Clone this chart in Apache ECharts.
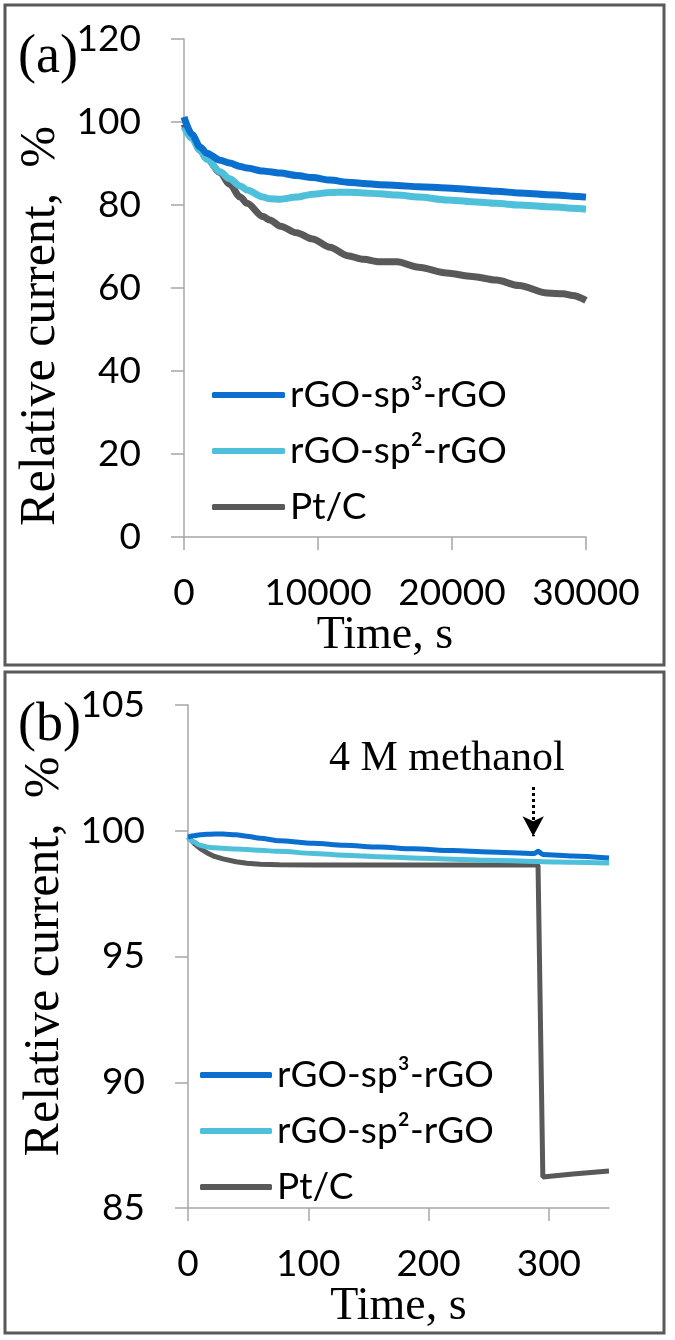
<!DOCTYPE html>
<html>
<head>
<meta charset="utf-8">
<script src="https://cdn.jsdelivr.net/npm/echarts@6/dist/echarts.min.js"></script>
<style>html,body{margin:0;padding:0;background:#fff;}#c{width:675px;height:1340px;}</style>
</head>
<body>
<div id="c"></div>
<script>
// ---- Panel (a) data ----
const timeA = [0, 600, 1200, 1700, 2700, 3400, 4200, 4700, 5900, 6400, 7200, 8400, 9600, 10900, 12200, 13400, 14600, 15900, 17500, 19600, 21500, 23300, 25000, 27100, 28300, 29000, 30000];
const sp3A  = [101.2, 97.0, 94.0, 92.5, 90.8, 90.1, 89.3, 88.9, 88.2, 88.0, 87.7, 87.1, 86.6, 86.0, 85.5, 85.2, 84.9, 84.7, 84.4, 84.1, 83.7, 83.3, 82.9, 82.5, 82.3, 82.1, 81.9];
const sp2A  = [98.8, 96.0, 93.2, 91.0, 88.0, 86.3, 84.6, 83.6, 81.9, 81.5, 81.4, 81.9, 82.6, 83.0, 83.1, 82.9, 82.7, 82.4, 81.9, 81.2, 80.8, 80.4, 80.0, 79.6, 79.4, 79.2, 79.0];
const ptcA  = [99.5, 96.5, 93.2, 91.2, 87.8, 85.0, 81.9, 80.4, 77.2, 76.4, 74.9, 73.3, 71.8, 69.8, 67.8, 66.9, 66.3, 66.3, 65.0, 63.6, 62.8, 61.9, 60.6, 58.8, 58.6, 58.2, 57.0];
const xTicksA = [0, 10000, 20000, 30000];
const yTicksA = [0, 20, 40, 60, 80, 100, 120];

// ---- Panel (b) data ----
const timeB = [0, 5, 10, 16, 22, 29, 40, 49, 60, 76, 104, 130, 159, 187, 220, 250, 288, 291, 295, 320, 350];
const sp3B  = [99.75, 99.8, 99.84, 99.86, 99.87, 99.87, 99.84, 99.78, 99.7, 99.6, 99.5, 99.42, 99.35, 99.28, 99.21, 99.16, 99.1, 99.18, 99.06, 99.0, 98.92];
const sp2B  = [99.75, 99.55, 99.42, 99.35, 99.32, 99.3, 99.27, 99.25, 99.22, 99.18, 99.1, 99.03, 98.97, 98.92, 98.87, 98.83, 98.78, 98.78, 98.77, 98.75, 98.72];
const ptcB  = [99.75, 99.5, 99.3, 99.12, 98.98, 98.88, 98.77, 98.71, 98.67, 98.65, 98.64, 98.64, 98.64, 98.64, 98.64, 98.64, 98.64, 98.64, 86.23, 86.35, 86.47];
const xTicksB = [0, 100, 200, 300];
const yTicksB = [85, 90, 95, 100, 105];
const arrowB = { time: 287, from: 101.74, to: 99.78 };

const names = ['rGO-sp³-rGO', 'rGO-sp²-rGO', 'Pt/C'];
const colors = ['#0a6fce', '#4fc0da', '#595959'];

const zip = (t, v) => t.map((x, i) => [x, v[i]]);

const SANS = 'Lato';
const SERIF = 'Liberation Serif';
const axisGray = '#a6a6a6';

function xAxisCfg(idx, min, max, interval, ticks, gap) {
  return {
    type: 'value', gridIndex: idx, min: min, max: max, interval: interval,
    name: 'Time, s', nameLocation: 'middle', nameGap: gap,
    nameTextStyle: { fontFamily: SERIF, fontSize: 46, color: '#000' },
    axisLine: { show: true, lineStyle: { color: axisGray, width: 1.5 } },
    axisTick: { show: true, length: 13, lineStyle: { color: axisGray, width: 1.5 }, customValues: ticks },
    axisLabel: { fontFamily: SANS, fontSize: 37, color: '#000', margin: 38, customValues: ticks, formatter: v => String(v) },
    splitLine: { show: false }
  };
}
function yAxisCfg(idx, min, max, interval, ticks, pad) {
  return {
    type: 'value', gridIndex: idx, min: min, max: max, interval: interval,
    name: 'Relative current,  %', nameLocation: 'middle', nameGap: 118,
    nameTextStyle: { fontFamily: SERIF, fontSize: 50, color: '#000', padding: pad },
    axisLine: { show: true, lineStyle: { color: axisGray, width: 1.5 } },
    axisTick: { show: true, length: 13, lineStyle: { color: axisGray, width: 1.5 }, customValues: ticks },
    axisLabel: { fontFamily: SANS, fontSize: 37, color: '#000', margin: 43, customValues: ticks, formatter: v => String(v) },
    splitLine: { show: false }
  };
}
function legendCfg(left, top, w) {
  return {
    left: left, top: top, orient: 'vertical', data: names,
    icon: 'roundRect', itemWidth: w, itemHeight: 6, itemGap: 16,
    textStyle: { fontFamily: SANS, fontSize: 37, lineHeight: 40, color: '#000' },
    selectedMode: false
  };
}

const chart = echarts.init(document.getElementById('c'), null, { renderer: 'canvas' });
chart.setOption({
  animation: false,
  backgroundColor: '#fff',
  title: [
    { text: '(a)', left: 13, top: 26, textStyle: { fontFamily: SERIF, fontSize: 54, fontWeight: 'normal', color: '#000' } },
    { text: '(b)', left: 13, top: 694, textStyle: { fontFamily: SERIF, fontSize: 54, fontWeight: 'normal', color: '#000' } }
  ],
  grid: [
    { left: 184, top: 39, width: 402, height: 498 },
    { left: 188, top: 705, width: 421, height: 503 }
  ],
  xAxis: [
    xAxisCfg(0, 0, 30000, 10000, xTicksA, 69),
    xAxisCfg(1, 0, 350, 100, xTicksB, 61)
  ],
  yAxis: [
    yAxisCfg(0, 0, 120, 20, yTicksA, [0, 76, 0, 0]),
    yAxisCfg(1, 85, 105, 5, yTicksB, [0, 0, 0, 0])
  ],
  legend: [legendCfg(207, 370, 73), legendCfg(195, 1050, 72)],
  series: [
    { name: names[2], type: 'line', xAxisIndex: 0, yAxisIndex: 0, data: zip(timeA, ptcA), smooth: 0.3, smoothMonotone: 'x', showSymbol: false, lineStyle: { width: 7, color: colors[2] }, itemStyle: { color: colors[2] } },
    { name: names[1], type: 'line', xAxisIndex: 0, yAxisIndex: 0, data: zip(timeA, sp2A), smooth: 0.3, smoothMonotone: 'x', showSymbol: false, lineStyle: { width: 7, color: colors[1] }, itemStyle: { color: colors[1] } },
    { name: names[0], type: 'line', xAxisIndex: 0, yAxisIndex: 0, data: zip(timeA, sp3A), smooth: 0.3, smoothMonotone: 'x', showSymbol: false, lineStyle: { width: 7, color: colors[0] }, itemStyle: { color: colors[0] } },
    { name: names[2], type: 'line', xAxisIndex: 1, yAxisIndex: 1, data: zip(timeB, ptcB), smooth: false, showSymbol: false, lineStyle: { width: 5, color: colors[2] }, itemStyle: { color: colors[2] } },
    { name: names[1], type: 'line', xAxisIndex: 1, yAxisIndex: 1, data: zip(timeB, sp2B), smooth: 0.3, smoothMonotone: 'x', showSymbol: false, lineStyle: { width: 5, color: colors[1] }, itemStyle: { color: colors[1] } },
    { name: names[0], type: 'line', xAxisIndex: 1, yAxisIndex: 1, data: zip(timeB, sp3B), smooth: 0.3, smoothMonotone: 'x', showSymbol: false, lineStyle: { width: 5, color: colors[0] }, itemStyle: { color: colors[0] },
      markLine: {
        silent: true, symbol: ['none', 'arrow'], symbolSize: [16, 20],
        label: { show: false },
        lineStyle: { type: 'dotted', width: 3, color: '#000' },
        data: [[{ coord: [arrowB.time, arrowB.from] }, { coord: [arrowB.time, arrowB.to] }]]
      }
    }
  ],
  graphic: [
    { type: 'rect', shape: { x: 5, y: 5, width: 659, height: 660 }, style: { fill: 'none', stroke: '#595959', lineWidth: 3 }, z: 100 },
    { type: 'rect', shape: { x: 5, y: 672, width: 659, height: 661 }, style: { fill: 'none', stroke: '#595959', lineWidth: 3 }, z: 100 },
    { type: 'text', left: 329, top: 738, style: { text: '4 M methanol', fontFamily: SERIF, fontSize: 42, fill: '#000' } }
  ]
});
</script>
</body>
</html>
